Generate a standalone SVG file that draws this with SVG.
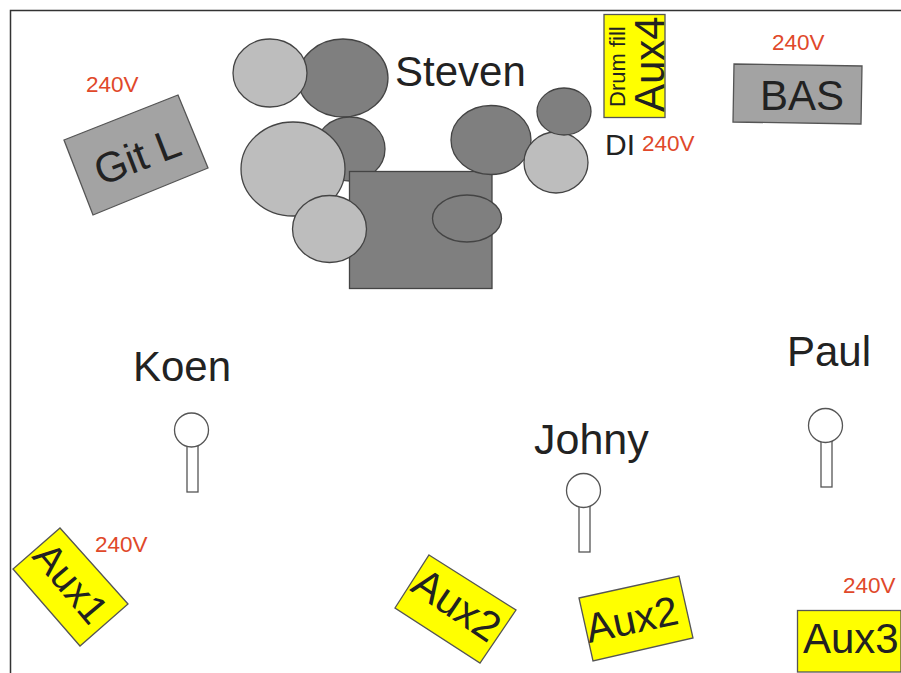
<svg xmlns="http://www.w3.org/2000/svg" width="901" height="673" viewBox="0 0 901 673">
<style>
text{font-family:"Liberation Sans",Arial,sans-serif;fill:#222}
.v{font-size:22.500px;fill:#e0482a}
.n{font-size:42px}
.a{font-size:42px}
.y{fill:#ffff00;stroke:#555;stroke-width:1.3}
.g{fill:#a3a3a3;stroke:#555;stroke-width:1.3}
.d{fill:#7f7f7f;stroke:#444;stroke-width:1.3}
.l{fill:#bdbdbd;stroke:#444;stroke-width:1.3}
.s{fill:#fff;stroke:#555;stroke-width:1.3}
</style>
<g id="frame"><path d="M10.500 673V10.500H901" fill="none" stroke="#333" stroke-width="1.500"/></g>
<g id="connectors"/>
<g id="drums">
<ellipse class="d" cx="343" cy="78" rx="45" ry="39"/>
<ellipse class="l" cx="270" cy="73" rx="37" ry="34"/>
<ellipse class="d" cx="350" cy="149" rx="35" ry="32"/>
<rect class="d" x="349.500" y="171.500" width="142.500" height="117"/>
<ellipse class="l" cx="293" cy="169" rx="52" ry="47"/>
<ellipse class="l" cx="329.500" cy="229" rx="37" ry="33.500"/>
<ellipse class="d" cx="467" cy="218.500" rx="34.500" ry="23.500"/>
<ellipse class="d" cx="491" cy="140" rx="40" ry="34.500"/>
<ellipse class="l" cx="556" cy="162.500" rx="32" ry="30.500"/>
<ellipse class="d" cx="564" cy="111.500" rx="27" ry="23.500"/>
<text class="n" x="395" y="86">Steven</text>
</g>
<g id="gitl"><polygon class="g" points="64,140 178,95 208,168 93,215"/><text class="a" transform="translate(101 186) rotate(-21)">Git L</text><text class="v" x="86" y="92">240V</text></g>
<g id="bas"><polygon class="g" points="734,64 862,66 861,124 733,122"/><text class="a" x="760" y="110">BAS</text><text class="v" x="772" y="50">240V</text></g>
<g id="aux4"><rect class="y" x="604" y="14.500" width="61" height="103"/><text class="a" transform="translate(664 112) rotate(-90)">Aux4</text><text transform="translate(625 107) rotate(-90)" style="font-size:22px">Drum fill</text></g>
<g id="di"><text x="605" y="155" style="font-size:30px">DI</text><text class="v" x="642" y="151">240V</text></g>
<g id="koen"><text class="n" x="133" y="381">Koen</text><rect class="s" x="187" y="445" width="11" height="47"/><circle class="s" cx="191.500" cy="430" r="17"/></g>
<g id="paul"><text class="n" x="787" y="366">Paul</text><rect class="s" x="821" y="440" width="11" height="47"/><circle class="s" cx="825.500" cy="425.500" r="17"/></g>
<g id="johny"><text class="n" x="534" y="454" style="font-size:43px">Johny</text><rect class="s" x="579" y="506" width="11" height="46"/><circle class="s" cx="583.500" cy="490.500" r="17"/></g>
<g id="aux1"><polygon class="y" points="60,528 128,604 80,646 13,569"/><text class="a" transform="translate(31 557) rotate(50)" style="font-size:40px">Aux1</text><text class="v" x="95" y="552">240V</text></g>
<g id="aux2a"><polygon class="y" points="429,555 516,610 480,663 395,608"/><text class="a" transform="translate(409 590) rotate(34)">Aux2</text></g>
<g id="aux2b"><polygon class="y" points="579,598 679,576 693,638 593,661"/><text class="a" transform="translate(589 643) rotate(-12)" style="font-size:41px">Aux2</text></g>
<g id="aux3"><rect class="y" x="797.500" y="610.500" width="103.500" height="61.500"/><text class="a" x="803" y="653">Aux3</text><text class="v" x="843" y="593">240V</text></g>
</svg>
